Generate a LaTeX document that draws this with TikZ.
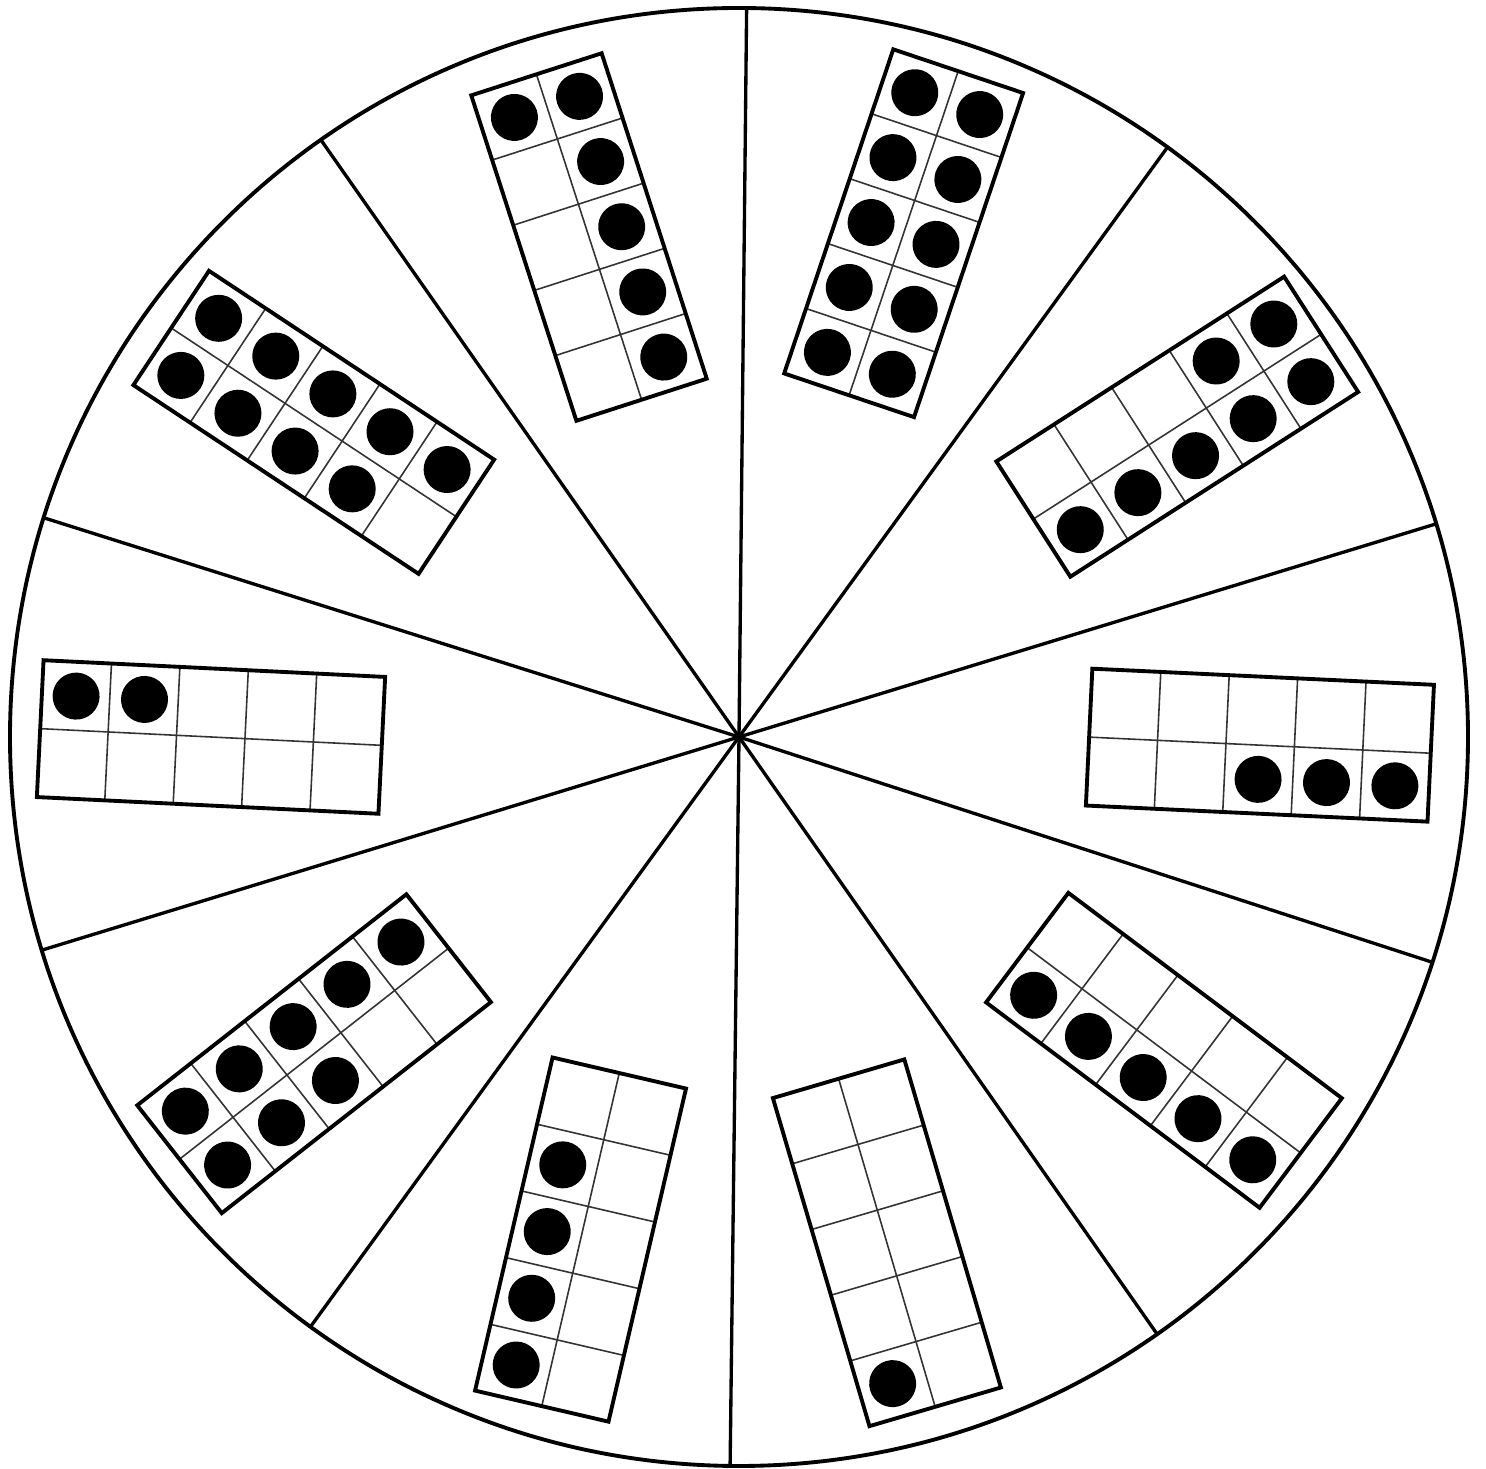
\documentclass[tikz,border=0pt]{standalone}
\begin{document}
\begin{tikzpicture}[
  rim/.style={line width=1.1pt},
  spoke/.style={line width=0.95pt},
  framebox/.style={line width=1.1pt},
  cellline/.style={line width=0.45pt, black!80},
  counter/.style={fill=black}]
\useasboundingbox (0,0) rectangle (14.86,14.69);
\coordinate (O) at (7.39,7.32);

% wheel and spokes
\draw[rim] (O) circle (7.29);
\foreach \s in {89.4,54,17,-18,-55,-90.7,234,197,162.5,125}
  \draw[spoke] (O) -- ++(\s:7.29);
\fill (O) circle (0.05);

% ten-frames: position angle / distance / frame rotation / number of counters
\foreach \a/\d/\r/\n in {-0.9/5.21/-2.7/3, 35.3/5.37/32.7/7, 71.9/5.30/71.4/10,
                         106.7/5.22/107.9/6, 143.5/5.29/146.5/9, 180/5.28/177.2/2,
                         216.7/5.30/218.1/8, 252.5/5.27/256.9/4, 286.3/5.27/286.4/1,
                         323.6/5.28/323.1/5}{
  \begin{scope}[shift={(O)}, shift={(\a:\d)}, rotate=\r]
    \draw[cellline] (-1.71,0) -- (1.71,0);
    \foreach \c in {1,...,4}
      \draw[cellline] ({-1.71+0.685*\c},-0.685) -- ({-1.71+0.685*\c},0.685);
    \draw[framebox] (-1.71,-0.685) rectangle (1.71,0.685);
    \foreach \k in {1,...,\n}{
      \pgfmathsetmacro\col{mod(\k-1,5)}
      \pgfmathsetmacro\row{\k>5 ? 1 : -1}
      \fill[counter] ({1.3675-0.685*\col},{0.3425*\row}) circle (0.235);
    }
  \end{scope}
}
\end{tikzpicture}
\end{document}
